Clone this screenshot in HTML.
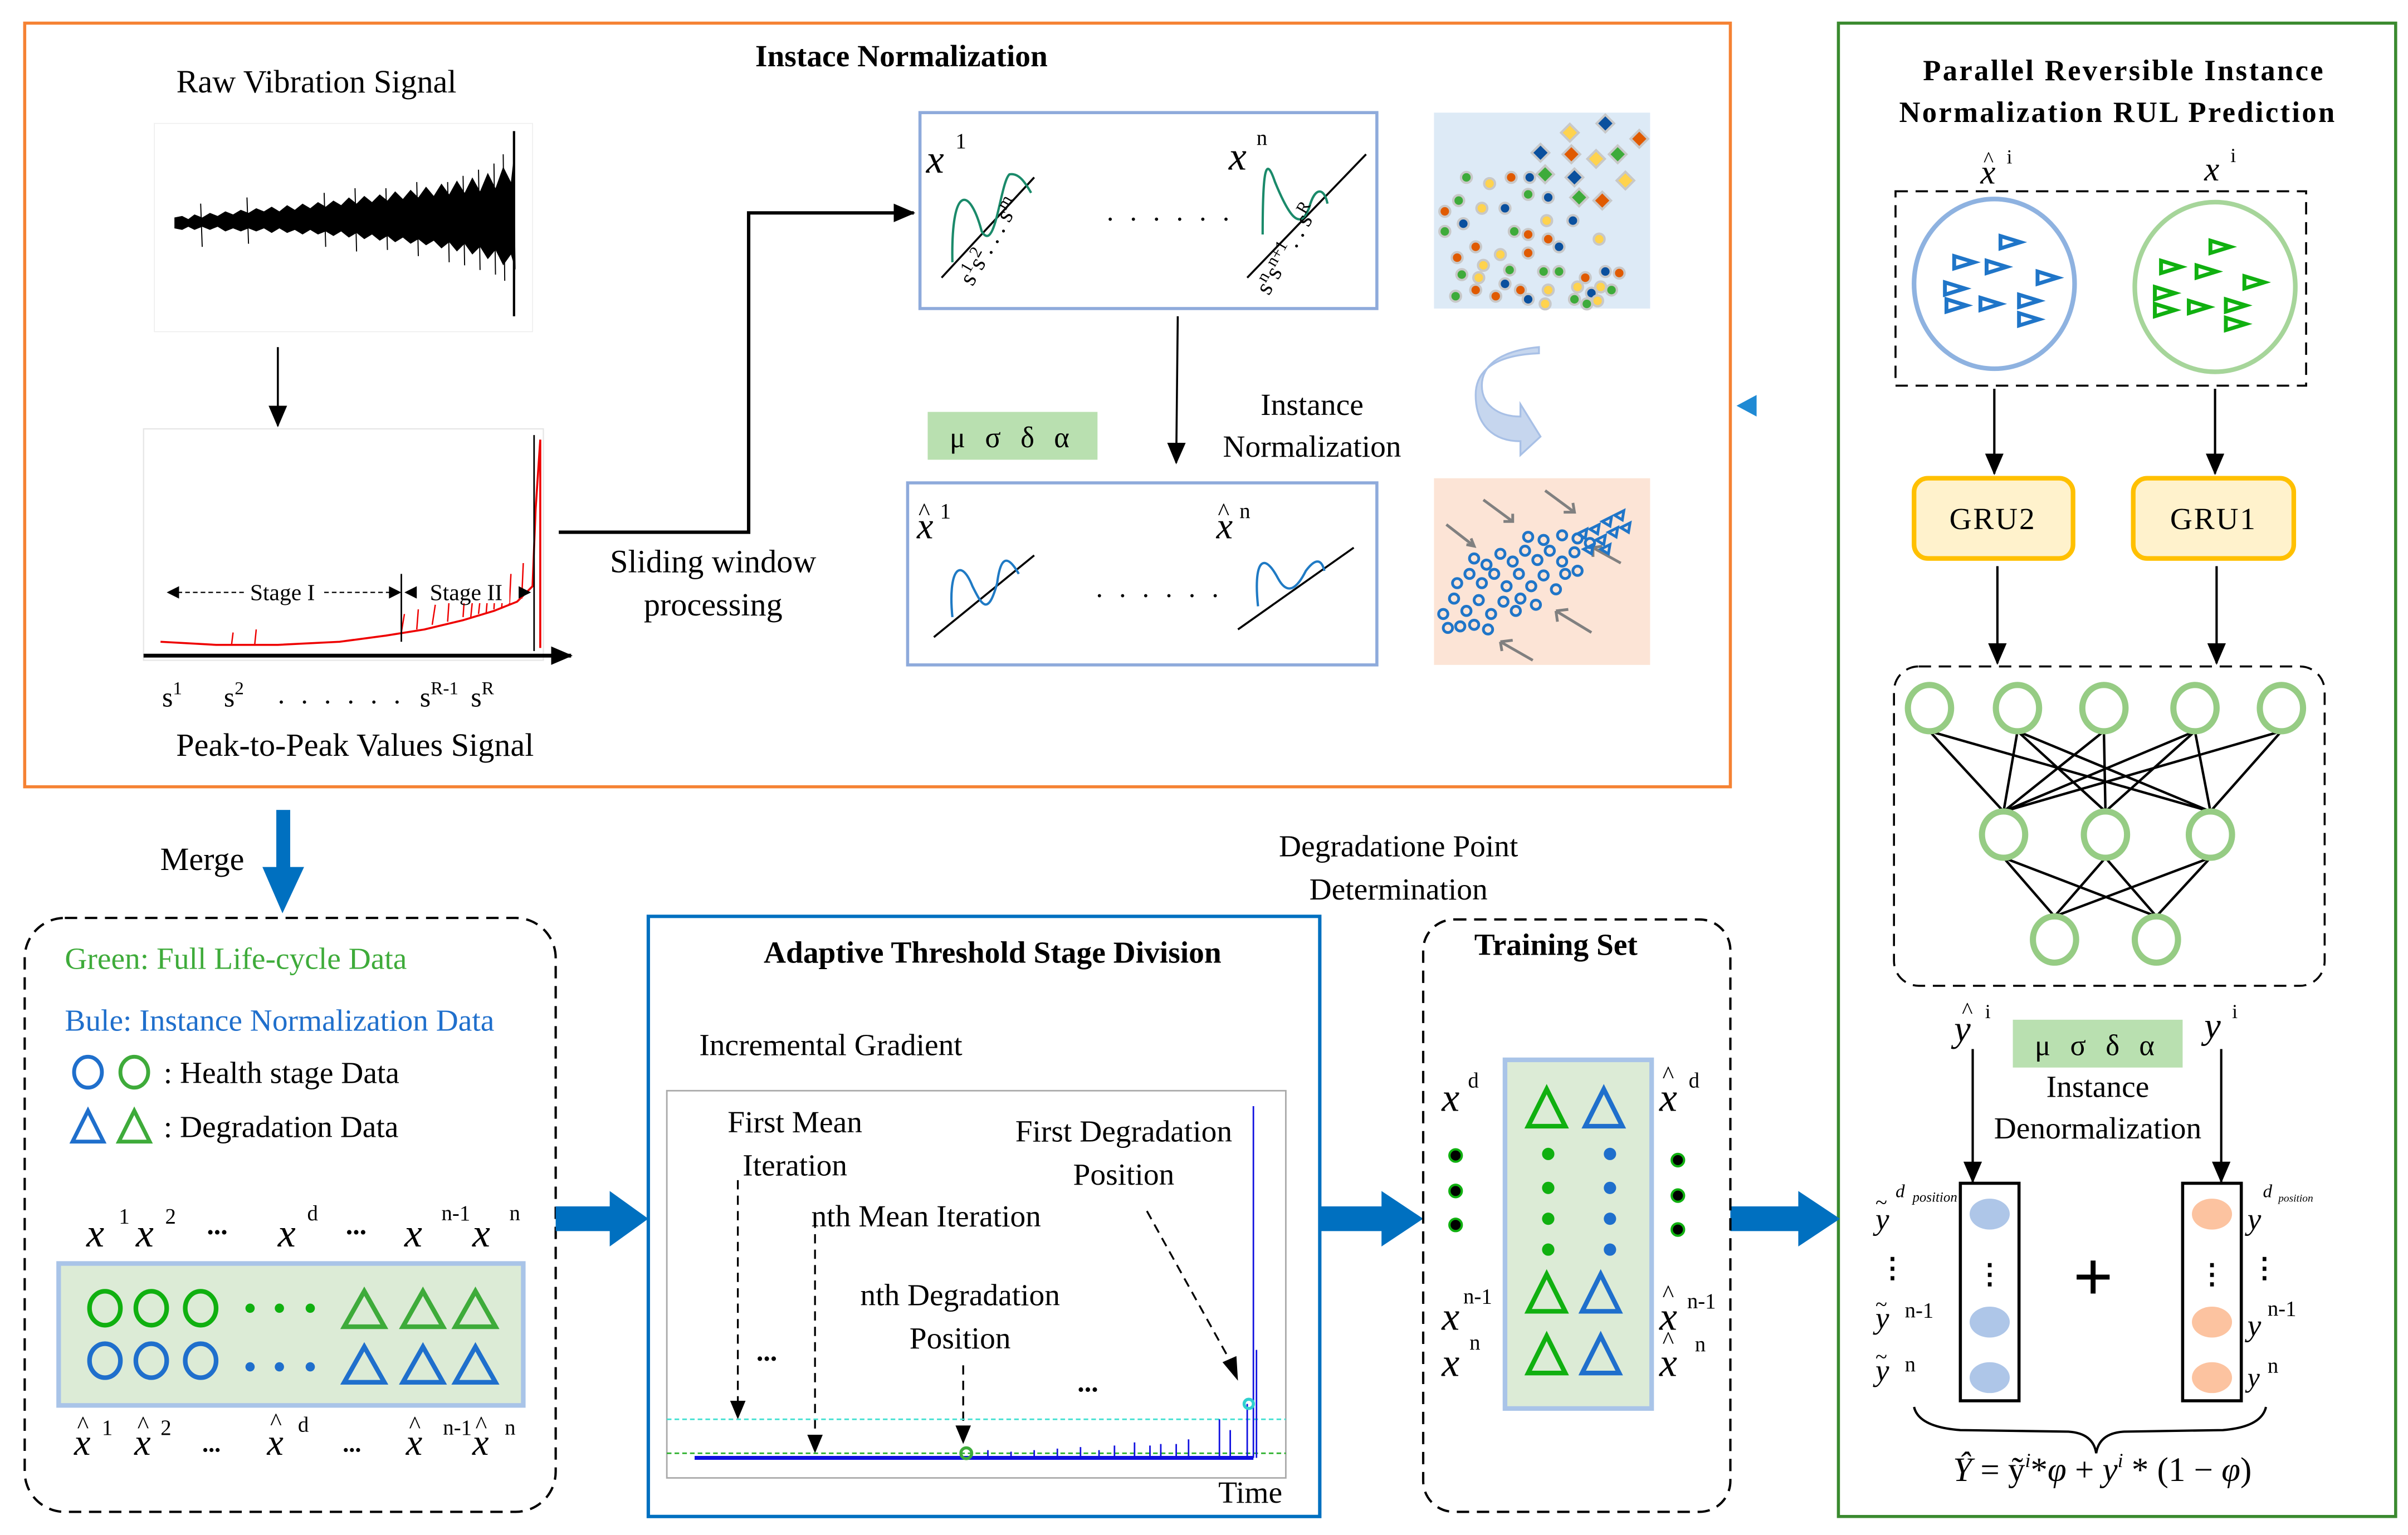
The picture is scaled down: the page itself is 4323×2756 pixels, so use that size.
<!DOCTYPE html>
<html><head><meta charset="utf-8"><style>
html,body{margin:0;padding:0;background:#fff;}
svg{display:block;}
text{font-family:"Liberation Serif",serif;}
.b{font-weight:bold;}
.i{font-style:italic;}
</style></head><body>
<svg width="4323" height="2756" viewBox="0 0 1560 995" preserveAspectRatio="none" xmlns="http://www.w3.org/2000/svg">
<defs>
<marker id="ah2" markerWidth="14" markerHeight="12" refX="13" refY="6" orient="auto" markerUnits="userSpaceOnUse"><path d="M0,0 L14,6 L0,12 Z" fill="#000"/></marker>
</defs>
<rect width="1560" height="995" fill="#fff"/>

<!-- Orange box -->
<rect x="16" y="15" width="1105" height="495" fill="none" stroke="#f58233" stroke-width="2"/>
<text x="584" y="43" font-size="20" class="b" text-anchor="middle">Instace Normalization</text>
<text x="205" y="60" font-size="21" text-anchor="middle">Raw Vibration Signal</text>
<!-- raw signal -->
<rect x="100" y="80" width="245" height="135" fill="none" stroke="#eee" stroke-width="0.6"/>
<path d="M113,141 L118,140 L122,142 L126,139 L131,141 L136,138 L141,140 L146,137 L151,139 L156,136 L161,138 L166,135 L171,137 L176,134 L181,137 L186,133 L191,136 L196,132 L201,135 L206,131 L211,134 L216,130 L221,133 L226,128 L231,132 L236,127 L241,131 L246,126 L251,130 L256,124 L261,129 L266,123 L271,128 L276,121 L281,127 L286,119 L291,126 L296,117 L301,125 L306,115 L311,124 L316,112 L321,122 L326,108 L331,118 L333,100 L334,175 L331,165 L326,172 L321,162 L316,168 L311,160 L306,165 L301,158 L296,163 L291,157 L286,161 L281,156 L276,159 L271,155 L266,158 L261,154 L256,157 L251,153 L246,156 L241,152 L236,155 L231,151 L226,154 L221,150 L216,153 L211,150 L206,152 L201,149 L196,152 L191,149 L186,151 L181,148 L176,151 L171,148 L166,150 L161,148 L156,150 L151,148 L146,150 L141,147 L136,149 L131,147 L126,149 L122,147 L118,149 L113,148 Z" fill="#000"/>
<line x1="333" y1="85" x2="333" y2="205" stroke="#000" stroke-width="1.5"/>
<path d="M290,118 L291,170 M300,114 L301,172 M310,110 L311,175 M320,106 L321,178 M326,100 L327,182 M250,122 L251,162 M270,118 L271,166 M160,128 L161,158 M130,132 L131,160 M210,125 L211,160 M230,122 L231,163" stroke="#000" stroke-width="0.7"/>
<line x1="180" y1="225" x2="180" y2="276" stroke="#000" stroke-width="1.3" marker-end="url(#ah2)"/>
<!-- peak chart -->
<rect x="93" y="278" width="259" height="150" fill="none" stroke="#e5e5e5" stroke-width="0.8"/>
<path d="M104,416 L140,418 L180,418 L220,416 L250,412 L275,408 L300,402 L320,396 L335,390 L345,380 L347,330 L349,300 L350,285 L350,420" fill="none" stroke="#e00" stroke-width="1.3"/>
<path d="M260,410 L262,398 M270,408 L271,395 M280,405 L282,392 M290,403 L291,388 M300,400 L301,385 M310,398 L312,380 M320,395 L321,376 M330,392 L331,372 M338,388 L339,365 M150,418 L151,410 M165,418 L166,408 M305,400 L306,390 M315,397 L316,385 M325,394 L326,380" stroke="#e00" stroke-width="0.9"/>
<line x1="346" y1="282" x2="346" y2="422" stroke="#000" stroke-width="1"/>
<line x1="260" y1="372" x2="260" y2="416" stroke="#000" stroke-width="1"/>
<line x1="93" y1="425" x2="370" y2="425" stroke="#000" stroke-width="2.5" marker-end="url(#ah2)"/>
<line x1="110" y1="384" x2="258" y2="384" stroke="#000" stroke-width="0.8" stroke-dasharray="3,2"/>
<path d="M108,384 L116,380 L116,388 Z M260,384 L252,380 L252,388 Z M262,384 L270,380 L270,388 Z M344,384 L336,380 L336,388 Z" fill="#000"/>
<rect x="158" y="375" width="50" height="16" fill="#fff"/>
<text x="183" y="389" font-size="15" text-anchor="middle">Stage I</text>
<rect x="274" y="375" width="56" height="16" fill="#fff"/>
<text x="302" y="389" font-size="15" text-anchor="middle">Stage II</text>
<text x="105" y="458" font-size="18">s<tspan font-size="12" dy="-8">1</tspan></text>
<text x="145" y="458" font-size="18">s<tspan font-size="12" dy="-8">2</tspan></text>
<text x="180" y="456" font-size="18" letter-spacing="3">. . . . . .</text>
<text x="272" y="458" font-size="18">s<tspan font-size="12" dy="-8">R-1</tspan></text>
<text x="305" y="458" font-size="18">s<tspan font-size="12" dy="-8">R</tspan></text>
<text x="230" y="490" font-size="21" text-anchor="middle">Peak-to-Peak Values Signal</text>
<!-- sliding path -->
<path d="M362,345 L485,345 L485,138 L592,138" fill="none" stroke="#000" stroke-width="2.2" marker-end="url(#ah2)"/>
<text x="462" y="371" font-size="21" text-anchor="middle">Sliding window</text>
<text x="462" y="399" font-size="21" text-anchor="middle">processing</text>
<!-- box1 -->
<rect x="596" y="73" width="296" height="127" fill="none" stroke="#8eaadb" stroke-width="2"/>
<text x="600" y="112" font-size="26" class="i">x</text><text x="619" y="96" font-size="14">1</text>
<text x="796" y="110" font-size="26" class="i">x</text><text x="814" y="94" font-size="14">n</text>
<line x1="610" y1="180" x2="670" y2="115" stroke="#000" stroke-width="1.3"/>
<path d="M617,170 C616,120 628,120 636,150 C645,165 648,118 654,113 C660,112 664,118 668,125" fill="none" stroke="#1a8a6a" stroke-width="1.5"/>
<text x="630" y="186" font-size="16" transform="rotate(-60 630 186)">s<tspan font-size="11" dy="-6">1</tspan><tspan dy="6">s</tspan><tspan font-size="11" dy="-6">2</tspan><tspan dy="6">. . . s</tspan><tspan font-size="11" dy="-6">m</tspan></text>
<text x="717" y="143" font-size="18" letter-spacing="3">. . . . . .</text>
<line x1="808" y1="180" x2="885" y2="100" stroke="#000" stroke-width="1.3"/>
<path d="M818,152 C818,110 820,100 826,118 C835,140 842,150 848,135 C852,120 858,122 860,132" fill="none" stroke="#1a8a6a" stroke-width="1.5"/>
<text x="822" y="192" font-size="16" transform="rotate(-60 822 192)">s<tspan font-size="11" dy="-6">n</tspan><tspan dy="6">s</tspan><tspan font-size="11" dy="-6">n+1</tspan><tspan dy="6">. . s</tspan><tspan font-size="11" dy="-6">R</tspan></text>
<line x1="763" y1="205" x2="762" y2="300" stroke="#000" stroke-width="1.3" marker-end="url(#ah2)"/>
<rect x="601" y="267" width="110" height="31" fill="#b9e0b0"/>
<text x="656" y="290" font-size="19" text-anchor="middle" letter-spacing="4">μ σ δ α</text>
<text x="850" y="269" font-size="20" text-anchor="middle">Instance</text>
<text x="850" y="296" font-size="20" text-anchor="middle">Normalization</text>
<!-- box2 -->
<rect x="588" y="313" width="304" height="118" fill="none" stroke="#8eaadb" stroke-width="2"/>
<text x="594" y="349" font-size="24" class="i">x</text><text x="595" y="337" font-size="16">^</text><text x="609" y="336" font-size="14">1</text>
<text x="788" y="349" font-size="24" class="i">x</text><text x="789" y="337" font-size="16">^</text><text x="803" y="336" font-size="14">n</text>
<line x1="605" y1="413" x2="670" y2="360" stroke="#000" stroke-width="1.3"/>
<path d="M617,400 C614,370 622,360 630,380 C636,392 640,400 646,378 C648,362 652,358 660,372" fill="none" stroke="#1f7ac4" stroke-width="1.5"/>
<text x="710" y="387" font-size="18" letter-spacing="3">. . . . . .</text>
<line x1="802" y1="408" x2="877" y2="355" stroke="#000" stroke-width="1.3"/>
<path d="M815,393 C812,365 818,356 828,375 C834,386 840,382 846,370 C852,362 856,362 858,370" fill="none" stroke="#1f7ac4" stroke-width="1.5"/>
<!-- scatter image -->
<rect x="929" y="73" width="140" height="127" fill="#ddeaf6"/>
<g stroke="#c8c8c8" stroke-width="1.5">
<circle cx="950" cy="115" r="3.5" fill="#3eab3a"/><circle cx="965" cy="119" r="3.5" fill="#ffd34e"/><circle cx="979" cy="115" r="3.5" fill="#e05a00"/><circle cx="991" cy="115" r="3.5" fill="#0a509e"/>
<circle cx="945" cy="130" r="3.5" fill="#3eab3a"/><circle cx="960" cy="135" r="3.5" fill="#ffd34e"/><circle cx="975" cy="135" r="3.5" fill="#0a509e"/><circle cx="990" cy="126" r="3.5" fill="#3eab3a"/><circle cx="1003" cy="128" r="3.5" fill="#0a509e"/>
<circle cx="936" cy="137" r="3.5" fill="#e05a00"/><circle cx="948" cy="145" r="3.5" fill="#0a509e"/><circle cx="981" cy="150" r="3.5" fill="#3eab3a"/><circle cx="990" cy="152" r="3.5" fill="#e05a00"/><circle cx="1002" cy="143" r="3.5" fill="#ffd34e"/><circle cx="1019" cy="143" r="3.5" fill="#0a509e"/>
<circle cx="936" cy="150" r="3.5" fill="#3eab3a"/><circle cx="956" cy="160" r="3.5" fill="#e05a00"/><circle cx="972" cy="165" r="3.5" fill="#ffd34e"/><circle cx="990" cy="164" r="3.5" fill="#e05a00"/><circle cx="1003" cy="155" r="3.5" fill="#e05a00"/><circle cx="1010" cy="160" r="3.5" fill="#0a509e"/><circle cx="1036" cy="155" r="3.5" fill="#ffd34e"/>
<circle cx="944" cy="167" r="3.5" fill="#e05a00"/><circle cx="961" cy="172" r="3.5" fill="#ffd34e"/><circle cx="978" cy="175" r="3.5" fill="#3eab3a"/><circle cx="1000" cy="176" r="3.5" fill="#3eab3a"/><circle cx="1010" cy="176" r="3.5" fill="#3eab3a"/><circle cx="1027" cy="180" r="3.5" fill="#e05a00"/><circle cx="1040" cy="176" r="3.5" fill="#0a509e"/><circle cx="1049" cy="177" r="3.5" fill="#e05a00"/>
<circle cx="947" cy="178" r="3.5" fill="#3eab3a"/><circle cx="958" cy="180" r="3.5" fill="#ffd34e"/><circle cx="975" cy="184" r="3.5" fill="#0a509e"/><circle cx="1037" cy="186" r="3.5" fill="#ffd34e"/><circle cx="1044" cy="188" r="3.5" fill="#3eab3a"/>
<circle cx="956" cy="188" r="3.5" fill="#e05a00"/><circle cx="985" cy="188" r="3.5" fill="#e05a00"/><circle cx="1003" cy="188" r="3.5" fill="#ffd34e"/><circle cx="1022" cy="186" r="3.5" fill="#ffd34e"/>
<circle cx="943" cy="192" r="3.5" fill="#3eab3a"/><circle cx="969" cy="192" r="3.5" fill="#e05a00"/><circle cx="990" cy="194" r="3.5" fill="#0a509e"/><circle cx="1001" cy="197" r="3.5" fill="#ffd34e"/><circle cx="1020" cy="194" r="3.5" fill="#3eab3a"/><circle cx="1031" cy="190" r="3.5" fill="#0a509e"/><circle cx="1035" cy="195" r="3.5" fill="#ffd34e"/><circle cx="1028" cy="197" r="3.5" fill="#3eab3a"/>
</g>
<g stroke="#c8c8c8" stroke-width="1.5">
<rect x="1013" y="82" width="8" height="8" fill="#ffd34e" transform="rotate(45 1017 86)"/><rect x="1036" y="76" width="8" height="8" fill="#0a509e" transform="rotate(45 1040 80)"/><rect x="1058" y="86" width="8" height="8" fill="#e05a00" transform="rotate(45 1062 90)"/>
<rect x="994" y="95" width="8" height="8" fill="#0a509e" transform="rotate(45 998 99)"/><rect x="1014" y="96" width="8" height="8" fill="#e05a00" transform="rotate(45 1018 100)"/><rect x="1030" y="99" width="8" height="8" fill="#ffd34e" transform="rotate(45 1034 103)"/><rect x="1044" y="96" width="8" height="8" fill="#3eab3a" transform="rotate(45 1048 100)"/>
<rect x="997" y="109" width="8" height="8" fill="#3eab3a" transform="rotate(45 1001 113)"/><rect x="1016" y="111" width="8" height="8" fill="#0a509e" transform="rotate(45 1020 115)"/><rect x="1049" y="113" width="8" height="8" fill="#ffd34e" transform="rotate(45 1053 117)"/>
<rect x="1019" y="124" width="8" height="8" fill="#3eab3a" transform="rotate(45 1023 128)"/><rect x="1034" y="126" width="8" height="8" fill="#e05a00" transform="rotate(45 1038 130)"/>
</g>
<!-- curved arrow -->
<path d="M997,225 C975,227 960,235 960,250 C960,262 970,270 985,270 L985,262 L998,283 L985,295 L985,286 C968,286 956,276 956,256 C956,238 972,230 997,229 Z" fill="#c6d6ee" stroke="#a8c0e6" stroke-width="1.2"/>
<!-- orange scatter -->
<rect x="929" y="310" width="140" height="121" fill="#fce4d6"/>
<g stroke="#808080" stroke-width="1.8" fill="none">
<path d="M937,340 L955,354 M950,353 L955,354 L953,349"/><path d="M961,324 L980,338 M974,338 L980,338 L980,333"/><path d="M1001,318 L1020,332 M1013,332 L1020,332 L1019,326"/>
<path d="M1050,365 L1032,355 M1032,355 L1038,354 M1032,355 L1032,361"/><path d="M1031,410 L1008,396 M1008,396 L1016,395 M1008,396 L1009,403"/><path d="M993,428 L972,416 M972,416 L980,415 M972,416 L973,422"/>
</g>
<g fill="none" stroke="#1f75c8" stroke-width="1.8">
<circle cx="935" cy="398" r="3"/><circle cx="942" cy="388" r="3"/><circle cx="950" cy="396" r="3"/><circle cx="958" cy="389" r="3"/><circle cx="966" cy="398" r="3"/><circle cx="974" cy="390" r="3"/><circle cx="982" cy="396" r="3"/><circle cx="946" cy="406" r="3"/><circle cx="955" cy="405" r="3"/><circle cx="964" cy="408" r="3"/><circle cx="938" cy="407" r="3"/>
<circle cx="944" cy="378" r="3"/><circle cx="952" cy="372" r="3"/><circle cx="960" cy="378" r="3"/><circle cx="968" cy="372" r="3"/><circle cx="976" cy="380" r="3"/><circle cx="984" cy="372" r="3"/><circle cx="992" cy="380" r="3"/><circle cx="1000" cy="373" r="3"/><circle cx="1008" cy="382" r="3"/>
<circle cx="955" cy="362" r="3"/><circle cx="963" cy="366" r="3"/><circle cx="972" cy="359" r="3"/><circle cx="980" cy="364" r="3"/><circle cx="988" cy="357" r="3"/><circle cx="996" cy="363" r="3"/><circle cx="1004" cy="357" r="3"/><circle cx="1012" cy="364" r="3"/><circle cx="1020" cy="358" r="3"/><circle cx="1014" cy="372" r="3"/><circle cx="1022" cy="370" r="3"/>
<circle cx="990" cy="348" r="3"/><circle cx="1000" cy="350" r="3"/><circle cx="1012" cy="347" r="3"/><circle cx="1022" cy="349" r="3"/><circle cx="1030" cy="352" r="3"/><circle cx="985" cy="388" r="3"/><circle cx="995" cy="392" r="3"/>
<path d="M1030,343 l6,-3 l-1,6 Z M1038,338 l6,-3 l-1,6 Z M1046,334 l6,-3 l-1,6 Z M1034,350 l6,-3 l-1,6 Z M1042,345 l6,-3 l-1,6 Z M1026,356 l6,-3 l-1,6 Z M1037,356 l6,-3 l-1,6 Z M1050,342 l6,-3 l-1,6 Z M1022,346 l6,-3 l-1,6 Z"/>
</g>
<path d="M1138,256 L1125,263 L1138,270 Z" fill="#1f8ad4"/>

<!-- Green panel -->
<rect x="1191" y="15" width="361" height="968" fill="none" stroke="#3a8a2f" stroke-width="2"/>
<text x="1376" y="52" font-size="19" class="b" text-anchor="middle" letter-spacing="1.2">Parallel Reversible Instance</text>
<text x="1372" y="79" font-size="19" class="b" text-anchor="middle" letter-spacing="1.2">Normalization RUL Prediction</text>
<text x="1283" y="119" font-size="22" class="i">x</text><text x="1285" y="108" font-size="14">^</text><text x="1300" y="106" font-size="13">i</text>
<text x="1428" y="117" font-size="22" class="i">x</text><text x="1445" y="105" font-size="13">i</text>
<rect x="1228" y="124" width="266" height="126" fill="none" stroke="#000" stroke-width="1.3" stroke-dasharray="8,5"/>
<ellipse cx="1292" cy="184" rx="52" ry="55" fill="#fff" stroke="#8eb2e0" stroke-width="3"/>
<ellipse cx="1435" cy="186" rx="52" ry="55" fill="#fff" stroke="#a6d59a" stroke-width="3"/>
<g fill="none" stroke="#1f75c8" stroke-width="2.5">
<path d="M1266,166 l13,4 l-13,4 Z M1296,153 l13,4 l-13,4 Z M1287,169 l13,4 l-13,4 Z M1320,176 l13,4 l-13,4 Z M1260,183 l13,4 l-13,4 Z M1261,194 l13,4 l-13,4 Z M1283,193 l13,4 l-13,4 Z M1308,191 l13,4 l-13,4 Z M1308,203 l13,4 l-13,4 Z"/>
</g>
<g fill="none" stroke="#10b010" stroke-width="2.5">
<path d="M1400,169 l13,4 l-13,4 Z M1432,156 l13,4 l-13,4 Z M1423,172 l13,4 l-13,4 Z M1454,179 l13,4 l-13,4 Z M1396,186 l13,4 l-13,4 Z M1396,197 l13,4 l-13,4 Z M1418,195 l13,4 l-13,4 Z M1442,194 l13,4 l-13,4 Z M1442,206 l13,4 l-13,4 Z"/>
</g>
<line x1="1292" y1="252" x2="1292" y2="307" stroke="#000" stroke-width="1.5" marker-end="url(#ah2)"/>
<line x1="1435" y1="252" x2="1435" y2="307" stroke="#000" stroke-width="1.5" marker-end="url(#ah2)"/>
<rect x="1240" y="310" width="103" height="52" rx="9" fill="#fff2cc" stroke="#ffc000" stroke-width="3"/>
<rect x="1382" y="310" width="104" height="52" rx="9" fill="#fff2cc" stroke="#ffc000" stroke-width="3"/>
<text x="1291" y="343" font-size="20" text-anchor="middle" letter-spacing="1">GRU2</text>
<text x="1434" y="343" font-size="20" text-anchor="middle" letter-spacing="1">GRU1</text>
<line x1="1294" y1="367" x2="1294" y2="430" stroke="#000" stroke-width="1.5" marker-end="url(#ah2)"/>
<line x1="1436" y1="367" x2="1436" y2="430" stroke="#000" stroke-width="1.5" marker-end="url(#ah2)"/>
<rect x="1227" y="432" width="279" height="207" rx="16" fill="none" stroke="#000" stroke-width="1.3" stroke-dasharray="8,5"/>
<g stroke="#000" stroke-width="1.6">
<path d="M1250,474 L1298,526 M1250,474 L1432,526 M1307,474 L1298,526 M1307,474 L1432,526 M1363,474 L1298,526 M1363,474 L1364,526 M1422,474 L1298,526 M1422,474 L1364,526 M1422,474 L1432,526 M1478,474 L1298,526 M1478,474 L1432,526 M1307,474 L1364,526"/>
<path d="M1298,556 L1331,594 M1298,556 L1397,594 M1364,556 L1331,594 M1364,556 L1397,594 M1432,556 L1331,594 M1432,556 L1397,594"/>
</g>
<g fill="#fff" stroke="#96cc84" stroke-width="4">
<ellipse cx="1250" cy="459" rx="14" ry="15"/><ellipse cx="1307" cy="459" rx="14" ry="15"/><ellipse cx="1363" cy="459" rx="14" ry="15"/><ellipse cx="1422" cy="459" rx="14" ry="15"/><ellipse cx="1478" cy="459" rx="14" ry="15"/>
<ellipse cx="1298" cy="541" rx="14" ry="15"/><ellipse cx="1364" cy="541" rx="14" ry="15"/><ellipse cx="1432" cy="541" rx="14" ry="15"/>
<ellipse cx="1331" cy="609" rx="14" ry="15"/><ellipse cx="1397" cy="609" rx="14" ry="15"/>
</g>
<text x="1266" y="675" font-size="24" class="i">y</text><text x="1271" y="660" font-size="15">^</text><text x="1286" y="660" font-size="13">i</text>
<text x="1428" y="673" font-size="24" class="i">y</text><text x="1446" y="660" font-size="13">i</text>
<rect x="1304" y="661" width="110" height="31" fill="#b9e0b0"/>
<text x="1359" y="684" font-size="19" text-anchor="middle" letter-spacing="4">μ σ δ α</text>
<text x="1359" y="711" font-size="20" text-anchor="middle">Instance</text>
<text x="1359" y="738" font-size="20" text-anchor="middle">Denormalization</text>
<line x1="1278" y1="680" x2="1278" y2="766" stroke="#000" stroke-width="1.5" marker-end="url(#ah2)"/>
<line x1="1439" y1="680" x2="1439" y2="766" stroke="#000" stroke-width="1.5" marker-end="url(#ah2)"/>
<rect x="1270" y="767" width="38" height="141" fill="#fff" stroke="#000" stroke-width="2"/>
<rect x="1414" y="767" width="38" height="141" fill="#fff" stroke="#000" stroke-width="2"/>
<ellipse cx="1289" cy="787" rx="13" ry="10" fill="#aec6e8"/><ellipse cx="1289" cy="857" rx="13" ry="10" fill="#aec6e8"/><ellipse cx="1289" cy="893" rx="13" ry="10" fill="#aec6e8"/>
<ellipse cx="1433" cy="787" rx="13" ry="10" fill="#fcc3a0"/><ellipse cx="1433" cy="857" rx="13" ry="10" fill="#fcc3a0"/><ellipse cx="1433" cy="893" rx="13" ry="10" fill="#fcc3a0"/>
<text x="1289" y="832" font-size="18" text-anchor="middle" class="b">⋮</text>
<text x="1433" y="832" font-size="18" text-anchor="middle" class="b">⋮</text>
<text x="1356" y="843" font-size="46" text-anchor="middle" class="b">+</text>
<text x="1215" y="797" font-size="20" class="i">y</text><text x="1215" y="784" font-size="14">~</text><text x="1228" y="776" font-size="12" class="i">d</text><text x="1239" y="779" font-size="9" class="i">position</text>
<text x="1217" y="828" font-size="18" class="b">⋮</text>
<text x="1215" y="861" font-size="20" class="i">y</text><text x="1215" y="850" font-size="14">~</text><text x="1234" y="854" font-size="14">n-1</text>
<text x="1215" y="895" font-size="20" class="i">y</text><text x="1215" y="884" font-size="14">~</text><text x="1234" y="889" font-size="14">n</text>
<text x="1456" y="797" font-size="20" class="i">y</text><text x="1466" y="776" font-size="12" class="i">d</text><text x="1476" y="779" font-size="7" class="i">position</text>
<text x="1458" y="828" font-size="18" class="b">⋮</text>
<text x="1456" y="866" font-size="20" class="i">y</text><text x="1469" y="853" font-size="14">n-1</text>
<text x="1456" y="899" font-size="18" class="i">y</text><text x="1469" y="890" font-size="14">n</text>
<path d="M1240,912 Q1243,925 1270,927 L1340,928 Q1356,929 1358,942 Q1360,929 1376,928 L1440,927 Q1465,925 1468,912" fill="none" stroke="#000" stroke-width="1.5"/>
<text x="1362" y="960" font-size="22" text-anchor="middle"><tspan class="i">Ŷ</tspan> = ỹ<tspan font-size="13" dy="-9" class="i">i</tspan><tspan dy="9">*</tspan><tspan class="i">φ</tspan> + <tspan class="i">y</tspan><tspan font-size="13" dy="-9" class="i">i</tspan><tspan dy="9"> * (1 − </tspan><tspan class="i">φ</tspan>)</text>

<!-- Merge -->
<rect x="179" y="525" width="9" height="40" fill="#0070c0"/>
<path d="M170,562 L197,562 L183,592 Z" fill="#0070c0"/>
<text x="131" y="564" font-size="21" text-anchor="middle">Merge</text>

<!-- dashed box left -->
<rect x="16" y="595" width="344" height="385" rx="26" fill="none" stroke="#000" stroke-width="1.5" stroke-dasharray="8,5"/>
<text x="42" y="628" font-size="20" fill="#3eab3a">Green: Full Life-cycle Data</text>
<text x="42" y="668" font-size="20" fill="#1f6fcc">Bule: Instance Normalization Data</text>
<ellipse cx="57" cy="695" rx="9" ry="10" fill="none" stroke="#1f6fcc" stroke-width="2.5"/>
<ellipse cx="87" cy="695" rx="9" ry="10" fill="none" stroke="#3eab3a" stroke-width="2.5"/>
<text x="106" y="702" font-size="20">: Health stage Data</text>
<path d="M47,740 L57,720 L67,740 Z" fill="none" stroke="#1f6fcc" stroke-width="2.5"/>
<path d="M77,740 L87,720 L97,740 Z" fill="none" stroke="#3eab3a" stroke-width="2.5"/>
<text x="106" y="737" font-size="20">: Degradation Data</text>
<g font-size="26" class="i">
<text x="56" y="808">x</text><text x="88" y="808">x</text><text x="180" y="808">x</text><text x="262" y="808">x</text><text x="306" y="808">x</text>
</g>
<g font-size="14"><text x="77" y="793">1</text><text x="107" y="793">2</text><text x="199" y="791">d</text><text x="286" y="791">n-1</text><text x="330" y="791">n</text></g>
<text x="134" y="800" font-size="18" class="b">...</text><text x="224" y="800" font-size="18" class="b">...</text>
<rect x="38" y="819" width="301" height="92" fill="#dcebd6" stroke="#a9c4e8" stroke-width="3"/>
<g fill="none" stroke-width="3">
<g stroke="#10b010"><ellipse cx="68" cy="848" rx="10" ry="11"/><ellipse cx="98" cy="848" rx="10" ry="11"/><ellipse cx="130" cy="848" rx="10" ry="11"/></g>
<g stroke="#1f6fcc"><ellipse cx="68" cy="882" rx="10" ry="11"/><ellipse cx="98" cy="882" rx="10" ry="11"/><ellipse cx="130" cy="882" rx="10" ry="11"/></g>
<g stroke="#3eab3a"><path d="M223,860 L236,837 L249,860 Z M261,860 L274,837 L287,860 Z M295,860 L308,837 L321,860 Z"/></g>
<g stroke="#1f6fcc"><path d="M223,896 L236,873 L249,896 Z M261,896 L274,873 L287,896 Z M295,896 L308,873 L321,896 Z"/></g>
</g>
<g fill="#10b010"><circle cx="162" cy="848" r="3"/><circle cx="181" cy="848" r="3"/><circle cx="201" cy="848" r="3"/></g>
<g fill="#1f6fcc"><circle cx="162" cy="886" r="3"/><circle cx="181" cy="886" r="3"/><circle cx="201" cy="886" r="3"/></g>
<g font-size="24" class="i">
<text x="48" y="943">x</text><text x="87" y="943">x</text><text x="173" y="943">x</text><text x="263" y="943">x</text><text x="306" y="943">x</text>
</g>
<g font-size="16"><text x="50" y="929">^</text><text x="89" y="929">^</text><text x="175" y="927">^</text><text x="265" y="929">^</text><text x="308" y="929">^</text></g>
<g font-size="14"><text x="66" y="930">1</text><text x="104" y="930">2</text><text x="193" y="928">d</text><text x="287" y="930">n-1</text><text x="327" y="930">n</text></g>
<text x="131" y="941" font-size="16" class="b">...</text><text x="222" y="941" font-size="16" class="b">...</text>

<!-- blue arrows -->
<path d="M360,782 L395,782 L395,772 L420,790 L395,808 L395,798 L360,798 Z" fill="#0070c0"/>
<path d="M855,782 L895,782 L895,772 L922,790 L895,808 L895,798 L855,798 Z" fill="#0070c0"/>
<path d="M1121,782 L1165,782 L1165,772 L1192,790 L1165,808 L1165,798 L1121,798 Z" fill="#0070c0"/>

<!-- ATSD box -->
<rect x="420" y="594" width="435" height="389" fill="none" stroke="#0070c0" stroke-width="2.2"/>
<text x="643" y="624" font-size="20" class="b" text-anchor="middle">Adaptive Threshold Stage Division</text>
<text x="453" y="684" font-size="20">Incremental Gradient</text>
<rect x="432" y="707" width="401" height="251" fill="none" stroke="#aaa" stroke-width="1"/>
<text x="515" y="734" font-size="20" text-anchor="middle">First Mean</text>
<text x="515" y="762" font-size="20" text-anchor="middle">Iteration</text>
<text x="728" y="740" font-size="20" text-anchor="middle">First Degradation</text>
<text x="728" y="768" font-size="20" text-anchor="middle">Position</text>
<text x="600" y="795" font-size="20" text-anchor="middle">nth Mean Iteration</text>
<text x="622" y="846" font-size="20" text-anchor="middle">nth Degradation</text>
<text x="622" y="874" font-size="20" text-anchor="middle">Position</text>
<text x="490" y="882" font-size="18" class="b">...</text>
<text x="698" y="902" font-size="18" class="b">...</text>
<g stroke="#000" stroke-width="1.2" stroke-dasharray="6,4" fill="none">
<line x1="478" y1="765" x2="478" y2="912"/><line x1="528" y1="790" x2="528" y2="935"/><line x1="624" y1="885" x2="624" y2="928"/><line x1="743" y1="785" x2="798" y2="884"/>
</g>
<path d="M473,908 L478,920 L483,908 Z M523,930 L528,942 L533,930 Z M619,924 L624,936 L629,924 Z M792,883 L802,895 L801,879 Z" fill="#000"/>
<line x1="432" y1="920" x2="833" y2="920" stroke="#3ee0d0" stroke-width="1" stroke-dasharray="3,2"/>
<line x1="432" y1="942" x2="833" y2="942" stroke="#2ab02a" stroke-width="1" stroke-dasharray="3,2"/>
<line x1="450" y1="945" x2="812" y2="945" stroke="#1010e0" stroke-width="2.5"/>
<g stroke="#1010e0" stroke-width="1">
<path d="M640,945 v-5 M655,945 v-4 M670,945 v-5 M685,945 v-6 M700,945 v-7 M712,945 v-5 M722,945 v-8 M735,945 v-10 M745,945 v-8 M752,945 v-9 M762,945 v-9 M770,945 v-12 M790,945 v-25 M797,945 v-18 M808,945 v-35 M812,945 v-228 M814,945 v-70"/>
</g>
<circle cx="626" cy="942" r="3.5" fill="none" stroke="#3eab3a" stroke-width="2"/>
<circle cx="809" cy="910" r="3" fill="none" stroke="#30d0d0" stroke-width="2"/>
<text x="810" y="974" font-size="20" text-anchor="middle">Time</text>

<text x="906" y="555" font-size="20" text-anchor="middle">Degradatione Point</text>
<text x="906" y="583" font-size="20" text-anchor="middle">Determination</text>

<!-- Training set -->
<rect x="922" y="596" width="199" height="384" rx="20" fill="none" stroke="#000" stroke-width="1.5" stroke-dasharray="8,5"/>
<text x="1008" y="619" font-size="20" class="b" text-anchor="middle">Training Set</text>
<rect x="975" y="687" width="95" height="226" fill="#dcebd6" stroke="#a9c4e8" stroke-width="3"/>
<g fill="none" stroke-width="3">
<path d="M990,730 L1002,706 L1014,730 Z M990,850 L1002,826 L1014,850 Z M990,890 L1002,866 L1014,890 Z" stroke="#10b010"/>
<path d="M1027,730 L1039,706 L1051,730 Z M1025,850 L1037,826 L1049,850 Z M1025,890 L1037,866 L1049,890 Z" stroke="#1f6fcc"/>
</g>
<g fill="#10b010"><circle cx="1003" cy="748" r="4"/><circle cx="1003" cy="770" r="4"/><circle cx="1003" cy="790" r="4"/><circle cx="1003" cy="810" r="4"/></g>
<g fill="#1f6fcc"><circle cx="1043" cy="748" r="4"/><circle cx="1043" cy="770" r="4"/><circle cx="1043" cy="790" r="4"/><circle cx="1043" cy="810" r="4"/></g>
<g fill="#000" stroke="#10b010" stroke-width="1.5"><circle cx="943" cy="749" r="4"/><circle cx="943" cy="772" r="4"/><circle cx="943" cy="794" r="4"/><circle cx="1087" cy="752" r="4"/><circle cx="1087" cy="775" r="4"/><circle cx="1087" cy="797" r="4"/></g>
<g font-size="26" class="i"><text x="934" y="720">x</text><text x="934" y="862">x</text><text x="934" y="892">x</text><text x="1075" y="720">x</text><text x="1075" y="862">x</text><text x="1075" y="892">x</text></g>
<g font-size="16"><text x="1077" y="702">^</text><text x="1077" y="844">^</text><text x="1077" y="874">^</text></g>
<g font-size="14"><text x="951" y="705">d</text><text x="948" y="845">n-1</text><text x="952" y="875">n</text><text x="1094" y="705">d</text><text x="1093" y="848">n-1</text><text x="1098" y="876">n</text></g>
</svg>
</body></html>
